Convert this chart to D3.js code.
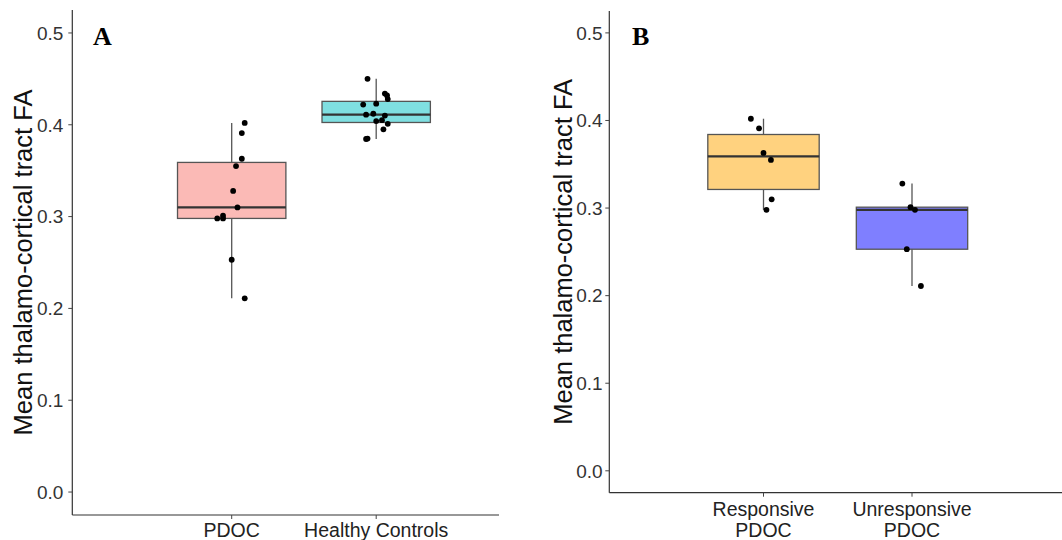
<!DOCTYPE html>
<html>
<head>
<meta charset="utf-8">
<script src="https://cdn.jsdelivr.net/npm/d3@7"></script>
<style>
  body { margin: 0; background: #fff; }
  svg { display: block; font-family: Arial, "Liberation Sans", sans-serif; }
</style>
</head>
<body>
<div id="chart"></div>
<script>
// ---- data ----
const yTicks = [0, 0.1, 0.2, 0.3, 0.4, 0.5];

// panel A
const panelACategories = ["PDOC", "Healthy Controls"];
const pdocFA = [0.402, 0.391, 0.363, 0.355, 0.328, 0.310, 0.301, 0.298, 0.298, 0.253, 0.211];
const pdocJitter = [0.09, 0.07, 0.07, 0.03, 0.01, 0.04, -0.06, -0.10, -0.06, 0.0, 0.09];
const healthyFA = [0.450, 0.434, 0.432, 0.428, 0.422, 0.423, 0.411, 0.412, 0.410, 0.404, 0.405, 0.401, 0.395, 0.3845, 0.385];
const healthyJitter = [-0.06, 0.06, 0.075, 0.08, -0.09, 0.0, -0.07, -0.02, 0.06, 0.0, 0.04, 0.08, 0.05, -0.07, -0.06];

// panel B
const panelBCategories = [["Responsive", "PDOC"], ["Unresponsive", "PDOC"]];
const responsiveFA = [0.402, 0.391, 0.363, 0.355, 0.310, 0.298];
const responsiveJitter = [-0.085, -0.03, 0.0, 0.05, 0.055, 0.02];
const unresponsiveFA = [0.328, 0.301, 0.298, 0.253, 0.211];
const unresponsiveJitter = [-0.065, -0.01, 0.02, -0.035, 0.06];

const W = 1062, H = 540;
const svg = d3.select("#chart").append("svg").attr("width", W).attr("height", H);

function boxStats(values) {
  const s = values.slice().sort(d3.ascending);
  const q1 = d3.quantile(s, 0.25), med = d3.quantile(s, 0.5), q3 = d3.quantile(s, 0.75);
  const iqr = q3 - q1;
  const lo = d3.min(s.filter(v => v >= q1 - 1.5 * iqr));
  const hi = d3.max(s.filter(v => v <= q3 + 1.5 * iqr));
  return { q1, med, q3, lo, hi };
}

function drawPanel(cfg) {
  const g = svg.append("g");
  const y = d3.scaleLinear().domain([-0.025, 0.525]).range([cfg.bottom, cfg.top]);
  const x = d3.scalePoint().domain(d3.range(cfg.groups.length)).range(cfg.xRange);
  const step = cfg.xRange[1] - cfg.xRange[0];
  const boxW = 0.75 * step;

  // axes lines
  g.append("line").attr("x1", cfg.left).attr("x2", cfg.left)
    .attr("y1", cfg.top).attr("y2", cfg.bottom)
    .attr("stroke", "#333").attr("stroke-width", 1.2);
  g.append("line").attr("x1", cfg.left).attr("x2", cfg.right)
    .attr("y1", cfg.bottom).attr("y2", cfg.bottom)
    .attr("stroke", "#333").attr("stroke-width", 1.2);

  // y ticks
  const yt = g.selectAll(".yt").data(yTicks).enter().append("g")
    .attr("transform", d => "translate(0," + y(d) + ")");
  yt.append("line").attr("x1", cfg.left - 4).attr("x2", cfg.left)
    .attr("stroke", "#444").attr("stroke-width", 1);
  yt.append("text").attr("x", cfg.left - cfg.tickPad).attr("dy", "0.36em")
    .attr("text-anchor", "end").attr("font-size", "19px").attr("fill", "#333")
    .text(d => d3.format(".1f")(d));

  // x ticks + labels
  cfg.groups.forEach((grp, i) => {
    g.append("line").attr("x1", x(i)).attr("x2", x(i))
      .attr("y1", cfg.bottom).attr("y2", cfg.bottom + 4)
      .attr("stroke", "#444").attr("stroke-width", 1);
    const lines = Array.isArray(grp.label) ? grp.label : [grp.label];
    const t = g.append("text").attr("text-anchor", "middle")
      .attr("font-size", "19.5px").attr("fill", "#222");
    lines.forEach((ln, k) => {
      t.append("tspan").attr("x", x(i)).attr("y", cfg.xLabelY + k * 21.5).text(ln);
    });
  });

  // y title
  g.append("text")
    .attr("transform", "translate(" + cfg.titleX + "," + ((cfg.top + cfg.bottom) / 2) + ") rotate(-90)")
    .attr("text-anchor", "middle").attr("font-size", "25.5px").attr("fill", "#111")
    .text("Mean thalamo-cortical tract FA");

  // panel letter
  g.append("text").attr("x", cfg.letterX).attr("y", 45)
    .attr("font-family", "'Liberation Serif', 'Times New Roman', serif")
    .attr("font-weight", "bold").attr("font-size", "26px").attr("fill", "#000")
    .text(cfg.letter);

  // boxes
  cfg.groups.forEach((grp, i) => {
    const st = boxStats(grp.values);
    const cx = x(i);
    const bg = g.append("g");
    bg.append("line").attr("x1", cx).attr("x2", cx).attr("y1", y(st.q3)).attr("y2", y(st.hi))
      .attr("stroke", "#555").attr("stroke-width", 1.3);
    bg.append("line").attr("x1", cx).attr("x2", cx).attr("y1", y(st.q1)).attr("y2", y(st.lo))
      .attr("stroke", "#555").attr("stroke-width", 1.3);
    bg.append("rect").attr("x", cx - boxW / 2).attr("width", boxW)
      .attr("y", y(st.q3)).attr("height", y(st.q1) - y(st.q3))
      .attr("fill", grp.color).attr("fill-opacity", 0.5)
      .attr("stroke", "#555").attr("stroke-width", 1.3);
    bg.append("line").attr("x1", cx - boxW / 2).attr("x2", cx + boxW / 2)
      .attr("y1", y(st.med)).attr("y2", y(st.med))
      .attr("stroke", "#333").attr("stroke-width", 2.2);
  });

  // jittered points
  cfg.groups.forEach((grp, i) => {
    g.selectAll(null).data(grp.values.map((v, k) => ({ v, j: grp.jitter[k] })))
      .enter().append("circle")
      .attr("cx", d => x(i) + d.j * step)
      .attr("cy", d => y(d.v))
      .attr("r", 2.9).attr("fill", "#000");
  });
}

drawPanel({
  letter: "A", letterX: 93,
  left: 72.3, right: 499, top: 10, bottom: 515,
  xRange: [231.7, 376.2], xLabelY: 536.5, tickPad: 9, titleX: 32,
  groups: [
    { label: panelACategories[0], values: pdocFA, jitter: pdocJitter, color: "#F8766D" },
    { label: panelACategories[1], values: healthyFA, jitter: healthyJitter, color: "#00BFC4" }
  ]
});

drawPanel({
  letter: "B", letterX: 632,
  left: 609.3, right: 1062, top: 11, bottom: 492.7,
  xRange: [763.5, 912], xLabelY: 515.5, tickPad: 6.6, titleX: 572,
  groups: [
    { label: panelBCategories[0], values: responsiveFA, jitter: responsiveJitter, color: "#FFA500" },
    { label: panelBCategories[1], values: unresponsiveFA, jitter: unresponsiveJitter, color: "#0000FF" }
  ]
});
</script>
</body>
</html>
